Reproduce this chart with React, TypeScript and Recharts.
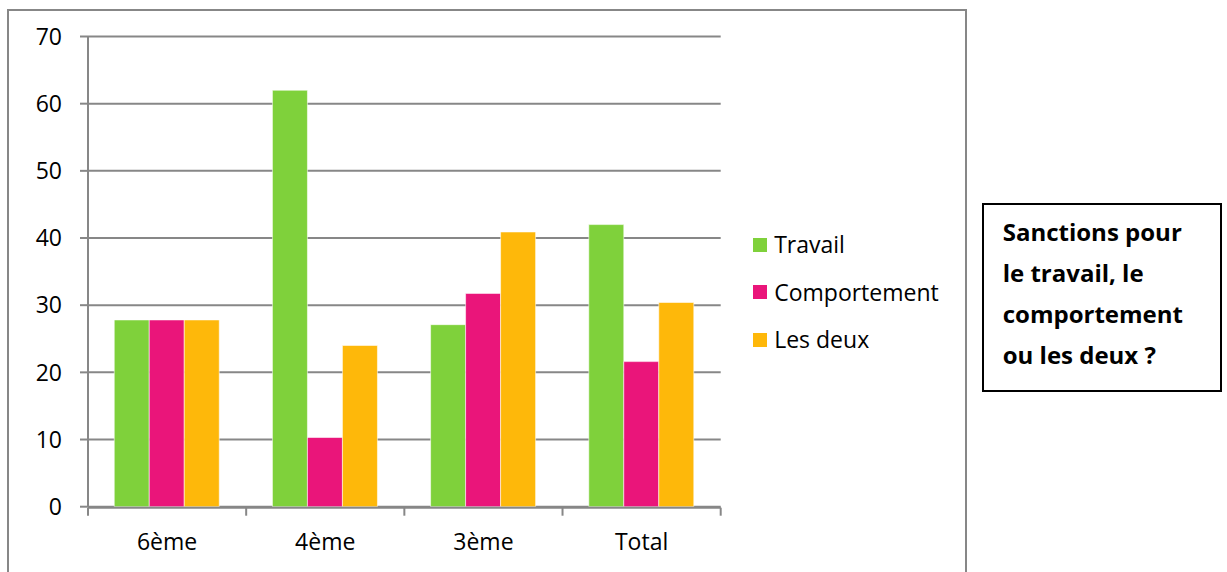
import React from "react";
import { BarChart, Bar, XAxis, YAxis, CartesianGrid, Legend } from "recharts";

const categories = ["6ème", "4ème", "3ème", "Total"];
const travail = [27.8, 62.0, 27.1, 42.0];
const comportement = [27.8, 10.3, 31.75, 21.6];
const lesDeux = [27.8, 24.0, 40.9, 30.4];
const yTicks = [0, 10, 20, 30, 40, 50, 60, 70];
const boundaryTicks = [0, 1, 2, 3, 4];

const seriesNames = ["Travail", "Comportement", "Les deux"];
const colors = ["#7FD13B", "#EA157A", "#FEB80A"];

const data = categories.map((name, i) => ({
  name,
  Travail: travail[i],
  Comportement: comportement[i],
  "Les deux": lesDeux[i],
}));

const FONT = "'Open Sans', 'Noto Sans', sans-serif";
const GRID = "#878787";
const FS = 23;

const renderLegend = () => (
  <div style={{ fontFamily: FONT, fontSize: FS, color: "#000" }}>
    {seriesNames.map((n, i) => (
      <div
        key={n}
        style={{ display: "flex", alignItems: "center", height: 47.5, lineHeight: "47.5px", whiteSpace: "nowrap" }}
      >
        <span style={{ display: "inline-block", width: 14.5, height: 14, background: colors[i], marginRight: 7 }} />
        <span>{n}</span>
      </div>
    ))}
  </div>
);

const EmptyTick = () => <g />;

export default function App() {
  return (
    <div style={{ position: "fixed", left: 0, top: 0, width: 1227, height: 572, overflow: "hidden", background: "#fff" }}>
      <div
        style={{
          position: "absolute",
          left: 7,
          top: 9,
          width: 960,
          height: 620,
          border: `2px solid ${GRID}`,
          boxSizing: "border-box",
        }}
      />
      <div style={{ position: "absolute", left: 0, top: 0 }}>
        <BarChart
          width={970}
          height={572}
          data={data}
          margin={{ top: 36.5, right: 249.3, left: 8, bottom: 63.3 }}
          barCategoryGap="16.6%"
          barGap={0}
        >
          <CartesianGrid vertical={false} stroke={GRID} strokeWidth={2} />
          <XAxis
            xAxisId="grid"
            type="number"
            dataKey="__none"
            domain={[0, 4]}
            ticks={boundaryTicks}
            interval={0}
            height={1}
            tick={EmptyTick}
            tickSize={8}
            axisLine={{ stroke: GRID, strokeWidth: 2 }}
            tickLine={{ stroke: GRID, strokeWidth: 2 }}
            allowDataOverflow
          />
          <XAxis
            xAxisId="cat"
            dataKey="name"
            height={1}
            axisLine={false}
            tickLine={false}
            tickSize={0}
            tickMargin={27}
            interval={0}
            tick={{ fill: "#000", fontSize: FS, fontFamily: FONT }}
          />
          <YAxis
            width={80}
            domain={[0, 70]}
            ticks={yTicks}
            interval={0}
            tickSize={8}
            tickMargin={18}
            axisLine={{ stroke: GRID, strokeWidth: 2 }}
            tickLine={{ stroke: GRID, strokeWidth: 2 }}
            tick={{ fill: "#000", fontSize: FS, fontFamily: FONT }}
          />
          <Legend
            layout="horizontal"
            verticalAlign="middle"
            align="center"
            content={renderLegend}
            wrapperStyle={{ position: "absolute", left: 752.7, top: 221, width: 220 }}
          />
          {seriesNames.map((n, i) => (
            <Bar
              key={n}
              xAxisId="cat"
              dataKey={n}
              fill={colors[i]}
              stroke="#ffffff"
              strokeOpacity={0.55}
              strokeWidth={1}
              isAnimationActive={false}
            />
          ))}
        </BarChart>
      </div>
      <div
        style={{
          position: "absolute",
          left: 981.7,
          top: 202.7,
          width: 240,
          height: 189.6,
          border: "2px solid #000",
          boxSizing: "border-box",
          paddingTop: 6.5,
          paddingLeft: 19,
          fontFamily: FONT,
          fontWeight: 700,
          fontSize: 24,
          lineHeight: "41px",
          whiteSpace: "nowrap",
          color: "#000",
        }}
      >
        Sanctions pour
        <br />
        le travail, le
        <br />
        comportement
        <br />
        ou les deux ?
      </div>
    </div>
  );
}
